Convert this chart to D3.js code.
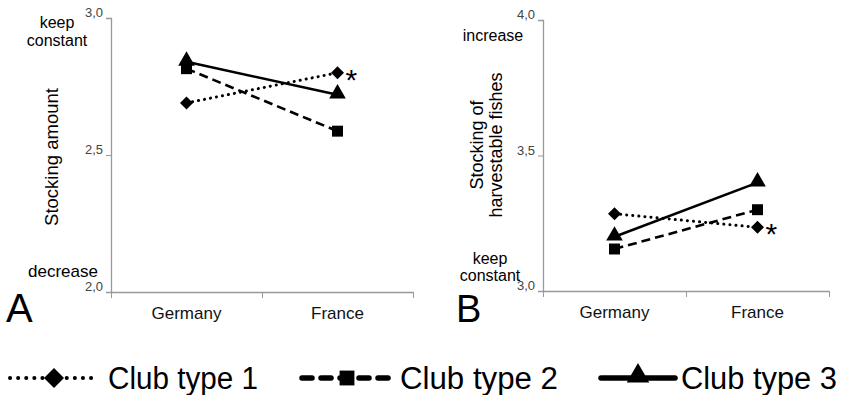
<!DOCTYPE html>
<html><head><meta charset="utf-8">
<script src="https://cdn.jsdelivr.net/npm/d3@7"></script>
<style>body{margin:0;background:#fff}svg{display:block}text{font-family:"Liberation Sans",Arial,sans-serif}</style>
</head><body><svg id="c" width="841" height="395"></svg>
<script>
const categories = ["Germany", "France"];
const seriesNames = ["Club type 1", "Club type 2", "Club type 3"];
const panelA = [[2.69, 2.80], [2.815, 2.587], [2.84, 2.72]];
const panelB = [[3.285, 3.235], [3.155, 3.30], [3.20, 3.40]];
const ticksA = [2.0, 2.5, 3.0];
const ticksB = [3.0, 3.5, 4.0];
const sig = [true, false, false];

const svg = d3.select("#c");
const dashes = ["0.1 6", "9 5", null];
const diamond = { draw(ctx, size) { const r = Math.sqrt(size / 2); ctx.moveTo(0, -r); ctx.lineTo(r, 0); ctx.lineTo(0, r); ctx.lineTo(-r, 0); ctx.closePath(); } };
const shapes = [diamond, d3.symbolSquare, d3.symbolTriangle];
const sizes = [85, 120, 120];
const fmt = d => d.toFixed(1).replace(".", ",");

function panel(o) {
  const g = svg.append("g");
  const y = d3.scaleLinear().domain(o.domain).range([o.y1, o.y0]);
  const x = d3.scalePoint().domain(categories).range([o.x0, o.x1]).padding(0.5);
  const ya = d3.axisLeft(y).tickValues(o.ticks).tickFormat(fmt).tickSize(5).tickPadding(3);
  const yg = g.append("g").attr("transform", `translate(${o.x0},0)`).call(ya);
  yg.select(".domain").attr("stroke", "#999").attr("stroke-width", 1.3);
  yg.selectAll(".tick line").attr("stroke", "#999");
  yg.selectAll(".tick text").attr("font-size", 13).attr("fill", "#444").attr("dy", "-0.1em");
  const xs = d3.scaleLinear().domain([0, 2]).range([o.x0, o.x1]);
  const xa = d3.axisBottom(xs).tickValues([0, 1, 2]).tickFormat("").tickSize(6).tickSizeOuter(0);
  const xg = g.append("g").attr("transform", `translate(0,${o.y1})`).call(xa);
  xg.select(".domain").attr("stroke", "#999").attr("stroke-width", 1.3);
  xg.selectAll(".tick line").attr("stroke", "#999");
  g.selectAll(".cat").data(categories).enter().append("text")
    .attr("x", d => x(d)).attr("y", o.y1 + 27).attr("text-anchor", "middle")
    .attr("font-size", 17).attr("fill", "#111").text(d => d);
  const line = d3.line().x((d, i) => x(categories[i])).y(d => y(d));
  o.data.forEach((s, k) => {
    g.append("path").attr("d", line(s)).attr("fill", "none").attr("stroke", "#000")
      .attr("stroke-width", k === 0 ? 3 : 2.6).attr("stroke-linecap", k === 0 ? "round" : "butt")
      .attr("stroke-dasharray", dashes[k]);
  });
  o.data.forEach((s, k) => {
    g.selectAll(null).data(s).enter().append("path")
      .attr("d", d3.symbol().type(shapes[k]).size(sizes[k]))
      .attr("transform", (d, i) => `translate(${x(categories[i])},${y(d) + (k === 2 ? -1 : 0)})`)
      .attr("fill", "#000");
    if (sig[k]) {
      g.append("text").attr("x", x(categories[1]) + 8).attr("y", y(s[1]) + 17)
        .attr("font-size", 30).attr("fill", "#000").text("*");
    }
  });
  return {g, x, y};
}

// Panel A
const A = panel({x0: 111, x1: 413, y0: 18, y1: 292, domain: [2.0, 3.0], ticks: ticksA, data: panelA});
A.g.append("text").attr("x", 57).attr("y", 28).attr("text-anchor", "middle").attr("font-size", 16).text("keep");
A.g.append("text").attr("x", 57).attr("y", 46).attr("text-anchor", "middle").attr("font-size", 16).text("constant");
A.g.append("text").attr("x", 63).attr("y", 277).attr("text-anchor", "middle").attr("font-size", 17).text("decrease");
A.g.append("text").attr("transform", "translate(58,157) rotate(-90)").attr("text-anchor", "middle")
  .attr("font-size", 18.5).text("Stocking amount");
A.g.append("text").attr("x", 6).attr("y", 322).attr("font-size", 40).text("A");

// Panel B
const B = panel({x0: 543, x1: 829, y0: 20, y1: 291, domain: [3.0, 4.0], ticks: ticksB, data: panelB});
B.g.append("text").attr("x", 493).attr("y", 41).attr("text-anchor", "middle").attr("font-size", 16).text("increase");
B.g.append("text").attr("x", 490).attr("y", 264).attr("text-anchor", "middle").attr("font-size", 16).text("keep");
B.g.append("text").attr("x", 490).attr("y", 281).attr("text-anchor", "middle").attr("font-size", 16).text("constant");
B.g.append("text").attr("transform", "translate(483,145) rotate(-90)").attr("text-anchor", "middle")
  .attr("font-size", 18).text("Stocking of");
B.g.append("text").attr("transform", "translate(502,145) rotate(-90)").attr("text-anchor", "middle")
  .attr("font-size", 18).text("harvestable fishes");
B.g.append("text").attr("x", 456).attr("y", 322).attr("font-size", 38).text("B");

// Legend
const legX = [6, 298, 597];
const legW = [96, 98, 82];
const textX = [108, 400, 681];
const textW = [150, 158, 156];
const leg = svg.append("g");
seriesNames.forEach((n, k) => {
  const gx = legX[k], w = legW[k], ly = 378;
  leg.append("line").attr("x1", gx + 4).attr("x2", gx + w - 4).attr("y1", ly).attr("y2", ly)
    .attr("stroke", "#000").attr("stroke-width", k === 0 ? 4 : 5.5)
    .attr("stroke-linecap", "round").attr("stroke-dasharray", k === 0 ? "0.1 8" : (k === 1 ? "10 9" : null));
  leg.append("path").attr("d", d3.symbol().type(shapes[k]).size(k === 0 ? 200 : 220))
    .attr("transform", `translate(${gx + w / 2},${ly - (k === 2 ? 2 : 0)})`).attr("fill", "#000");
  leg.append("text").attr("x", textX[k]).attr("y", ly + 11).attr("font-size", 31)
    .attr("textLength", textW[k]).attr("lengthAdjust", "spacingAndGlyphs").text(n);
});
</script></body></html>
